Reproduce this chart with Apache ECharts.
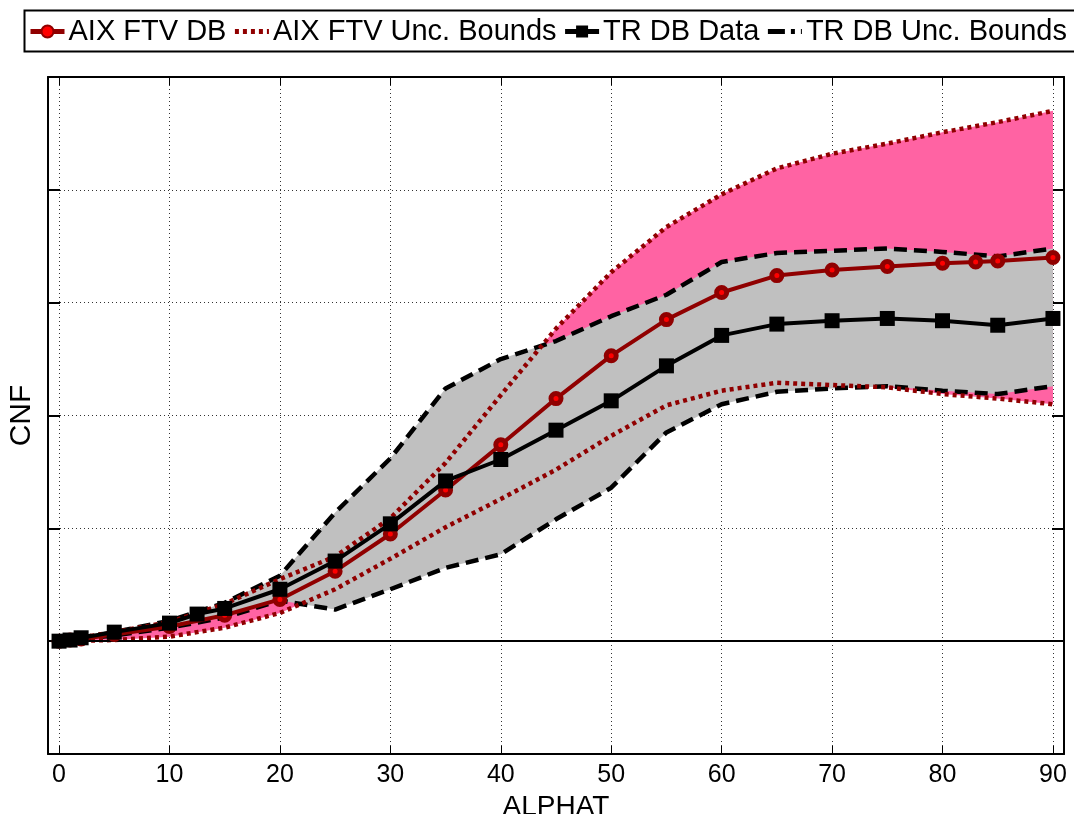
<!DOCTYPE html>
<html>
<head>
<meta charset="utf-8">
<script src="https://cdn.jsdelivr.net/npm/echarts@6/dist/echarts.min.js"></script>
<style>
html,body{margin:0;padding:0;background:#fff;}
#chart{width:1074px;height:814px;}
</style>
</head>
<body>
<div id="chart"></div>
<script>
// ---- data ----
const xAIX = [0,1,2,5,10,15,20,25,30,35,40,45,50,55,60,65,70,75,80,83,85,90];
const yAIX = [0,0.01,0.02,0.06,0.13,0.23,0.37,0.62,0.95,1.34,1.74,2.15,2.53,2.85,3.09,3.24,3.29,3.32,3.35,3.36,3.37,3.40];

const xTR = [0,1,2,5,10,12.5,15,20,25,30,35,40,45,50,55,60,65,70,75,80,85,90];
const yTR = [0,0.01,0.03,0.08,0.16,0.24,0.29,0.46,0.71,1.04,1.42,1.61,1.87,2.13,2.44,2.71,2.81,2.84,2.86,2.84,2.80,2.86];

const xBounds = [0,5,10,15,20,25,30,35,40,45,50,55,60,65,70,75,80,85,90];
const aixUpper = [0,0.08,0.17,0.33,0.55,0.75,1.09,1.58,2.18,2.77,3.27,3.67,3.96,4.19,4.32,4.41,4.51,4.60,4.70];
const aixLower = [0,0.01,0.04,0.12,0.25,0.46,0.73,1.01,1.26,1.52,1.82,2.09,2.22,2.29,2.27,2.25,2.19,2.15,2.10];
const trUpper  = [0,0.08,0.18,0.34,0.58,1.14,1.62,2.24,2.50,2.66,2.88,3.07,3.36,3.44,3.46,3.48,3.45,3.41,3.48];
const trLower  = [0,0.05,0.12,0.21,0.36,0.28,0.46,0.65,0.77,1.08,1.36,1.85,2.10,2.21,2.24,2.26,2.22,2.19,2.26];

const xTickLabels = ['0','10','20','30','40','50','60','70','80','90'];

// ---- helpers ----
const pairs = (xs, ys) => xs.map((x, i) => [x, ys[i]]);
function bandSeries(xs, up, lo, fill, z) {
  return {
    type: 'custom', silent: true, z: z, clip: true,
    data: [[xs[0], up[0]]],
    renderItem: function (params, api) {
      const top = xs.map((x, i) => api.coord([x, up[i]]));
      const bot = xs.map((x, i) => api.coord([x, lo[i]])).reverse();
      return { type: 'polygon', shape: { points: top.concat(bot) }, style: { fill: fill, stroke: null } };
    }
  };
}

const DARKRED = '#900000';
const FONT = 'Liberation Sans, Arial, Helvetica, sans-serif';
const gridDots = { show: true, lineStyle: { color: '#333', width: 1, type: [1, 3] } };

const chart = echarts.init(document.getElementById('chart'), null, { renderer: 'canvas' });
chart.setOption({
  animation: false,
  backgroundColor: '#fff',
  textStyle: { fontFamily: FONT },
  graphic: [{
    type: 'rect', left: 22, top: 8, z: 100, silent: true,
    shape: { width: 1100, height: 41 },
    style: { fill: null, stroke: '#000', lineWidth: 2 }
  }],
  legend: {
    left: 28, top: 17, itemWidth: 34, itemHeight: 15, itemGap: 6,
    padding: 0, selectedMode: false,
    textStyle: { fontSize: 29, color: '#000', fontFamily: FONT, padding: [0, 0, 0, -1] },
    data: [
      { name: 'AIX FTV DB', lineStyle: { width: 5 } },
      { name: 'AIX FTV Unc. Bounds', itemStyle: { opacity: 0 }, lineStyle: { width: 5, type: [4, 4] } },
      { name: 'TR DB Data', lineStyle: { width: 5 } },
      { name: 'TR DB Unc. Bounds', itemStyle: { opacity: 0 }, lineStyle: { width: 5, type: [17, 6, 4, 6] } }
    ]
  },
  grid: { left: 48, right: 10, top: 77, bottom: 60, containLabel: false, outerBoundsMode: 'none' },
  xAxis: [{
    type: 'value', min: -1, max: 91, splitNumber: 9,
    name: 'ALPHAT', nameLocation: 'middle', nameGap: 27,
    nameTextStyle: { fontSize: 28, color: '#000', fontFamily: FONT },
    axisLine: { show: true, onZero: false, lineStyle: { color: '#000', width: 2 } },
    axisTick: { show: true, inside: true, length: 8, lineStyle: { color: '#000', width: 1 } },
    axisLabel: {
      fontSize: 25, color: '#000', margin: 9, fontFamily: FONT,
      formatter: function (v) { const s = String(v); return xTickLabels.indexOf(s) >= 0 ? s : ''; }
    },
    splitLine: gridDots
  }, {
    type: 'value', min: -1, max: 91, splitNumber: 9, position: 'top',
    axisLine: { show: true, onZero: false, lineStyle: { color: '#000', width: 2 } },
    axisTick: { show: true, inside: true, length: 8, lineStyle: { color: '#000', width: 1 } },
    axisLabel: { show: false }, splitLine: { show: false }
  }],
  yAxis: [{
    type: 'value', min: -1, max: 5, interval: 1,
    name: 'CNF', nameLocation: 'middle', nameGap: 11, nameRotate: 90,
    nameTextStyle: { fontSize: 30, color: '#000', fontFamily: FONT },
    axisLine: { show: true, onZero: false, lineStyle: { color: '#000', width: 2 } },
    axisTick: { show: true, inside: true, length: 12, lineStyle: { color: '#000', width: 2 } },
    axisLabel: { show: false },
    splitLine: gridDots
  }, {
    type: 'value', min: -1, max: 5, interval: 1, position: 'right',
    axisLine: { show: true, onZero: false, lineStyle: { color: '#000', width: 2 } },
    axisTick: { show: true, inside: true, length: 12, lineStyle: { color: '#000', width: 2 } },
    axisLabel: { show: false }, splitLine: { show: false }
  }],
  series: [
    bandSeries(xBounds, aixUpper, aixLower, '#FF63A3', 1),
    bandSeries(xBounds, trUpper, trLower, '#C0C0C0', 2),
    {
      name: 'TR DB Unc. Bounds', type: 'line', z: 3, symbol: 'none', showSymbol: false,
      data: pairs(xBounds, trUpper), color: '#000',
      lineStyle: { color: '#000', width: 4.5, type: [13, 7] },
      markLine: {
        silent: true, symbol: 'none', label: { show: false },
        lineStyle: { color: '#000', width: 2, type: 'solid' },
        data: [{ yAxis: 0 }]
      }
    },
    {
      name: 'TR DB Unc. Bounds', type: 'line', z: 3, symbol: 'none', showSymbol: false,
      data: pairs(xBounds, trLower), color: '#000',
      lineStyle: { color: '#000', width: 4.5, type: [13, 7] }
    },
    {
      name: 'AIX FTV Unc. Bounds', type: 'line', z: 4, symbol: 'none', showSymbol: false,
      data: pairs(xBounds, aixUpper), color: DARKRED,
      lineStyle: { color: DARKRED, width: 4.5, type: [4, 4] }
    },
    {
      name: 'AIX FTV Unc. Bounds', type: 'line', z: 4, symbol: 'none', showSymbol: false,
      data: pairs(xBounds, aixLower), color: DARKRED,
      lineStyle: { color: DARKRED, width: 4.5, type: [4, 4] }
    },
    {
      name: 'AIX FTV DB', type: 'line', z: 5, symbol: 'circle', symbolSize: 10,
      data: pairs(xAIX, yAIX), color: DARKRED,
      lineStyle: { color: DARKRED, width: 4 },
      itemStyle: { color: '#FF0000', borderColor: DARKRED, borderWidth: 5 }
    },
    {
      name: 'TR DB Data', type: 'line', z: 6, symbol: 'rect', symbolSize: 15,
      data: pairs(xTR, yTR), color: '#000',
      lineStyle: { color: '#000', width: 4 },
      itemStyle: { color: '#000', borderWidth: 0 }
    }
  ]
});
</script>
</body>
</html>
